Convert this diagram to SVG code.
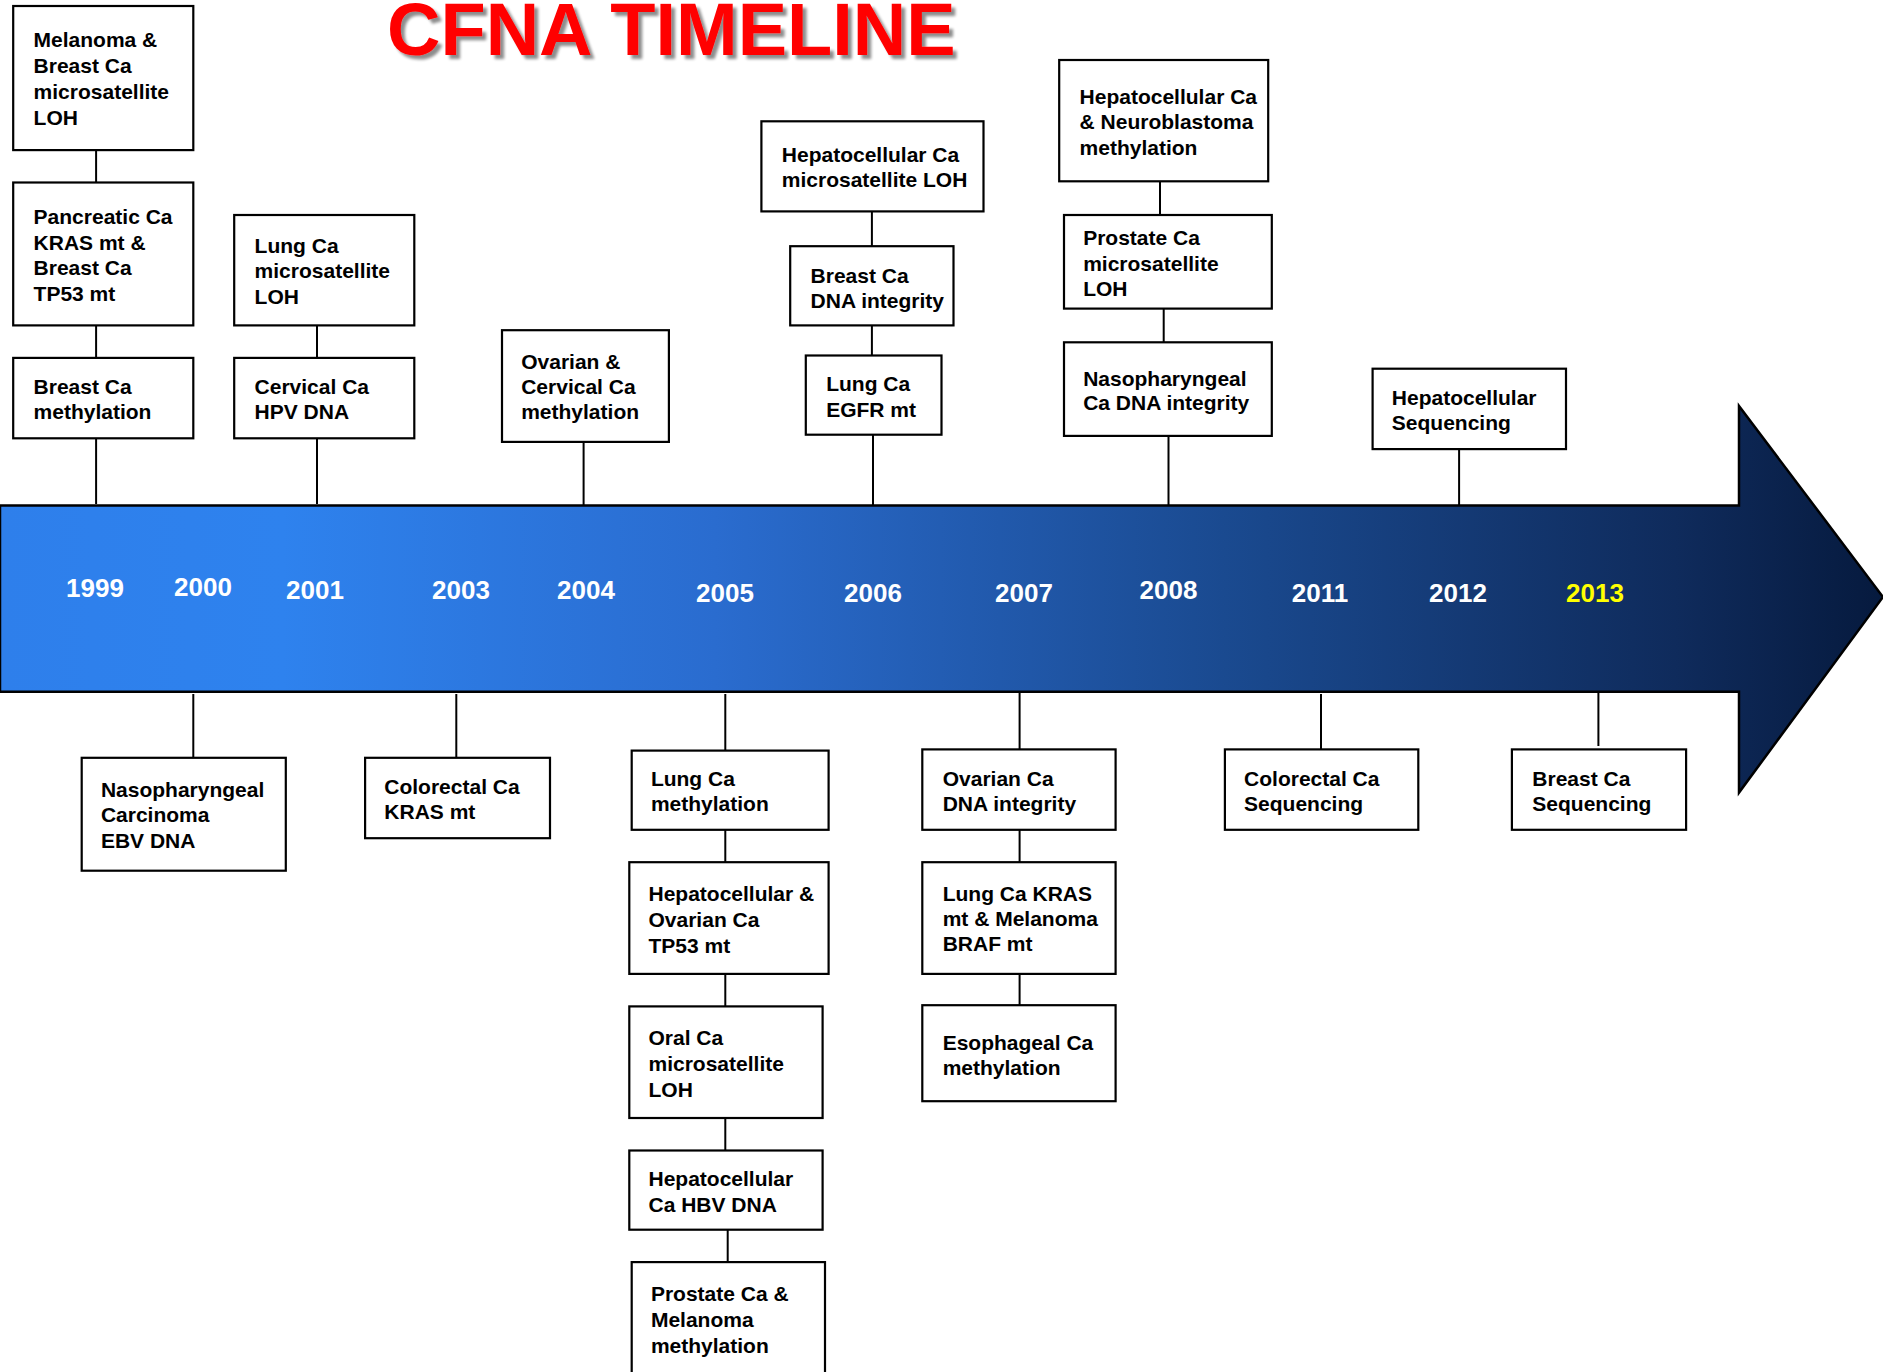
<svg xmlns="http://www.w3.org/2000/svg" width="1883" height="1372" viewBox="0 0 1883 1372">
<defs>
<linearGradient id="band" gradientUnits="userSpaceOnUse" x1="0" y1="0" x2="1883" y2="0">
<stop offset="0" stop-color="#2E7FEB"/>
<stop offset="0.15" stop-color="#2E82EE"/>
<stop offset="0.38" stop-color="#2A6CCF"/>
<stop offset="0.65" stop-color="#1A4A90"/>
<stop offset="0.89" stop-color="#0F2B5C"/>
<stop offset="1" stop-color="#061A3E"/>
</linearGradient>
<filter id="shadow" x="-5%" y="-20%" width="110%" height="140%">
<feGaussianBlur in="SourceAlpha" stdDeviation="1.5"/>
<feOffset dx="4" dy="4" result="b"/>
<feComponentTransfer><feFuncA type="linear" slope="0.45"/></feComponentTransfer>
<feMerge><feMergeNode/><feMergeNode in="SourceGraphic"/></feMerge>
</filter>
</defs>
<style>
.box{fill:#fff;stroke:#000;stroke-width:2.2}
.t{font-family:"Liberation Sans",Arial,sans-serif;font-weight:bold;font-size:21px;fill:#000}
.yr{font-family:"Liberation Sans",Arial,sans-serif;font-weight:bold;font-size:26px;fill:#fff;text-anchor:middle}
.c{stroke:#000;stroke-width:2;fill:none}
</style>
<rect width="1883" height="1372" fill="#fff"/>
<text x="387" y="55" font-family="'Liberation Sans',Arial,sans-serif" font-weight="bold" font-size="74" fill="#FF0000" filter="url(#shadow)">CFNA TIMELINE</text>

<g id="timeline">
<polygon points="0,505.6 1739,505.6 1739,406 1883,597 1739,792.6 1739,691.7 0,691.7" fill="url(#band)" stroke="#000" stroke-width="2.5"/>
<text class="yr" x="95" y="597">1999</text>
<text class="yr" x="203" y="596">2000</text>
<text class="yr" x="315" y="599">2001</text>
<text class="yr" x="461" y="599">2003</text>
<text class="yr" x="586" y="599">2004</text>
<text class="yr" x="725" y="601.5">2005</text>
<text class="yr" x="873" y="601.5">2006</text>
<text class="yr" x="1024" y="601.5">2007</text>
<text class="yr" x="1168.5" y="599">2008</text>
<text class="yr" x="1320" y="601.5">2011</text>
<text class="yr" x="1458" y="601.5">2012</text>
<text class="yr" x="1595" y="601.5" style="fill:#FFFF00">2013</text>
</g>

<g id="connectors">
<line class="c" x1="96.1" y1="150.1" x2="96.1" y2="182.5"/>
<line class="c" x1="96.1" y1="325.4" x2="96.1" y2="357.9"/>
<line class="c" x1="96.1" y1="438.3" x2="96.1" y2="504"/>
<line class="c" x1="317" y1="325.4" x2="317" y2="357.9"/>
<line class="c" x1="317" y1="438.3" x2="317" y2="504"/>
<line class="c" x1="583.6" y1="441.9" x2="583.6" y2="505.6"/>
<line class="c" x1="871.9" y1="211.4" x2="871.9" y2="246.2"/>
<line class="c" x1="871.9" y1="325.4" x2="871.9" y2="355.5"/>
<line class="c" x1="873" y1="434.7" x2="873" y2="505.6"/>
<line class="c" x1="1160" y1="181.3" x2="1160" y2="215"/>
<line class="c" x1="1163.7" y1="308.6" x2="1163.7" y2="342.3"/>
<line class="c" x1="1168.5" y1="435.9" x2="1168.5" y2="505.6"/>
<line class="c" x1="1459.1" y1="449.1" x2="1459.1" y2="505.6"/>
<line class="c" x1="193.3" y1="694" x2="193.3" y2="757.8"/>
<line class="c" x1="456.3" y1="694" x2="456.3" y2="757.8"/>
<line class="c" x1="725.3" y1="694" x2="725.3" y2="750.6"/>
<line class="c" x1="725.3" y1="829.8" x2="725.3" y2="862.2"/>
<line class="c" x1="725.3" y1="973.9" x2="725.3" y2="1006.4"/>
<line class="c" x1="725.3" y1="1118" x2="725.3" y2="1150.5"/>
<line class="c" x1="727.7" y1="1229.7" x2="727.7" y2="1262.1"/>
<line class="c" x1="1019.6" y1="691.7" x2="1019.6" y2="749.4"/>
<line class="c" x1="1019.6" y1="829.8" x2="1019.6" y2="862.2"/>
<line class="c" x1="1019.6" y1="973.9" x2="1019.6" y2="1005.2"/>
<line class="c" x1="1321" y1="694" x2="1321" y2="749.4"/>
<line class="c" x1="1598.4" y1="691.7" x2="1598.4" y2="746"/>
</g>

<g id="n1"><rect class="box" x="13.2" y="6" width="180.1" height="144.1"/>
<text class="t" x="33.6" y="47"><tspan x="33.6">Melanoma &amp;</tspan><tspan x="33.6" dy="26">Breast Ca</tspan><tspan x="33.6" dy="26">microsatellite</tspan><tspan x="33.6" dy="26">LOH</tspan></text></g>
<g id="n2"><rect class="box" x="13.2" y="182.5" width="180.1" height="142.9"/>
<text class="t" x="33.6" y="224"><tspan x="33.6">Pancreatic Ca</tspan><tspan x="33.6" dy="25.7">KRAS mt &amp;</tspan><tspan x="33.6" dy="25.7">Breast Ca</tspan><tspan x="33.6" dy="25.7">TP53 mt</tspan></text></g>
<g id="n3"><rect class="box" x="13.2" y="357.9" width="180.1" height="80.4"/>
<text class="t" x="33.6" y="394.2"><tspan x="33.6">Breast Ca</tspan><tspan x="33.6" dy="25.2">methylation</tspan></text></g>
<g id="n4"><rect class="box" x="234.2" y="215" width="180.1" height="110.4"/>
<text class="t" x="254.6" y="252.5"><tspan x="254.6">Lung Ca</tspan><tspan x="254.6" dy="25.8">microsatellite</tspan><tspan x="254.6" dy="25.8">LOH</tspan></text></g>
<g id="n5"><rect class="box" x="234.2" y="357.9" width="180.1" height="80.4"/>
<text class="t" x="254.6" y="394.2"><tspan x="254.6">Cervical Ca</tspan><tspan x="254.6" dy="25.2">HPV DNA</tspan></text></g>
<g id="n6"><rect class="box" x="502" y="330.2" width="166.9" height="111.7"/>
<text class="t" x="521.2" y="369"><tspan x="521.2">Ovarian &amp;</tspan><tspan x="521.2" dy="25.2">Cervical Ca</tspan><tspan x="521.2" dy="25.2">methylation</tspan></text></g>
<g id="n7"><rect class="box" x="761.4" y="121.3" width="222.1" height="90.1"/>
<text class="t" x="781.8" y="162"><tspan x="781.8">Hepatocellular Ca</tspan><tspan x="781.8" dy="25.2">microsatellite LOH</tspan></text></g>
<g id="n8"><rect class="box" x="790.2" y="246.2" width="163.3" height="79.2"/>
<text class="t" x="810.6" y="282.5"><tspan x="810.6">Breast Ca</tspan><tspan x="810.6" dy="25.2">DNA integrity</tspan></text></g>
<g id="n9"><rect class="box" x="805.8" y="355.5" width="135.7" height="79.2"/>
<text class="t" x="826.2" y="390.6"><tspan x="826.2">Lung Ca</tspan><tspan x="826.2" dy="26">EGFR mt</tspan></text></g>
<g id="n10"><rect class="box" x="1059.2" y="60" width="209" height="121.3"/>
<text class="t" x="1079.6" y="103.6"><tspan x="1079.6">Hepatocellular Ca</tspan><tspan x="1079.6" dy="25.8">&amp; Neuroblastoma</tspan><tspan x="1079.6" dy="25.8">methylation</tspan></text></g>
<g id="n11"><rect class="box" x="1064" y="215" width="207.8" height="93.6"/>
<text class="t" x="1083.2" y="245.3"><tspan x="1083.2">Prostate Ca</tspan><tspan x="1083.2" dy="25.2">microsatellite</tspan><tspan x="1083.2" dy="25.2">LOH</tspan></text></g>
<g id="n12"><rect class="box" x="1064" y="342.3" width="207.8" height="93.6"/>
<text class="t" x="1083.2" y="385.8"><tspan x="1083.2">Nasopharyngeal</tspan><tspan x="1083.2" dy="24.5">Ca DNA integrity</tspan></text></g>
<g id="n13"><rect class="box" x="1372.6" y="368.7" width="193.4" height="80.4"/>
<text class="t" x="1391.8" y="405"><tspan x="1391.8">Hepatocellular</tspan><tspan x="1391.8" dy="25.2">Sequencing</tspan></text></g>
<g id="n14"><rect class="box" x="81.7" y="757.8" width="204.1" height="112.9"/>
<text class="t" x="100.9" y="796.5"><tspan x="100.9">Nasopharyngeal</tspan><tspan x="100.9" dy="25.8">Carcinoma</tspan><tspan x="100.9" dy="25.8">EBV DNA</tspan></text></g>
<g id="n15"><rect class="box" x="365.1" y="757.8" width="184.9" height="80.4"/>
<text class="t" x="384.3" y="794.1"><tspan x="384.3">Colorectal Ca</tspan><tspan x="384.3" dy="25.2">KRAS mt</tspan></text></g>
<g id="n16"><rect class="box" x="631.7" y="750.6" width="196.9" height="79.2"/>
<text class="t" x="650.9" y="785.7"><tspan x="650.9">Lung Ca</tspan><tspan x="650.9" dy="25.2">methylation</tspan></text></g>
<g id="n17"><rect class="box" x="629.3" y="862.2" width="199.3" height="111.7"/>
<text class="t" x="648.5" y="901"><tspan x="648.5">Hepatocellular &amp;</tspan><tspan x="648.5" dy="25.8">Ovarian Ca</tspan><tspan x="648.5" dy="25.8">TP53 mt</tspan></text></g>
<g id="n18"><rect class="box" x="629.3" y="1006.4" width="193.3" height="111.6"/>
<text class="t" x="648.5" y="1045.1"><tspan x="648.5">Oral Ca</tspan><tspan x="648.5" dy="25.8">microsatellite</tspan><tspan x="648.5" dy="25.8">LOH</tspan></text></g>
<g id="n19"><rect class="box" x="629.3" y="1150.5" width="193.3" height="79.2"/>
<text class="t" x="648.5" y="1185.6"><tspan x="648.5">Hepatocellular</tspan><tspan x="648.5" dy="26">Ca HBV DNA</tspan></text></g>
<g id="n20"><rect class="box" x="631.7" y="1262.1" width="193.3" height="130"/>
<text class="t" x="650.9" y="1300.9"><tspan x="650.9">Prostate Ca &amp;</tspan><tspan x="650.9" dy="25.8">Melanoma</tspan><tspan x="650.9" dy="25.8">methylation</tspan></text></g>
<g id="n21"><rect class="box" x="922.3" y="749.4" width="193.3" height="80.4"/>
<text class="t" x="942.7" y="785.7"><tspan x="942.7">Ovarian Ca</tspan><tspan x="942.7" dy="25.2">DNA integrity</tspan></text></g>
<g id="n22"><rect class="box" x="922.3" y="862.2" width="193.3" height="111.7"/>
<text class="t" x="942.7" y="901"><tspan x="942.7">Lung Ca KRAS</tspan><tspan x="942.7" dy="25.2">mt &amp; Melanoma</tspan><tspan x="942.7" dy="25.2">BRAF mt</tspan></text></g>
<g id="n23"><rect class="box" x="922.3" y="1005.2" width="193.3" height="96"/>
<text class="t" x="942.7" y="1049.9"><tspan x="942.7">Esophageal Ca</tspan><tspan x="942.7" dy="25.2">methylation</tspan></text></g>
<g id="n24"><rect class="box" x="1224.9" y="749.4" width="193.4" height="80.4"/>
<text class="t" x="1244.1" y="785.7"><tspan x="1244.1">Colorectal Ca</tspan><tspan x="1244.1" dy="25.2">Sequencing</tspan></text></g>
<g id="n25"><rect class="box" x="1511.9" y="749.4" width="174.2" height="80.4"/>
<text class="t" x="1532.3" y="785.7"><tspan x="1532.3">Breast Ca</tspan><tspan x="1532.3" dy="25.2">Sequencing</tspan></text></g>
</svg>
